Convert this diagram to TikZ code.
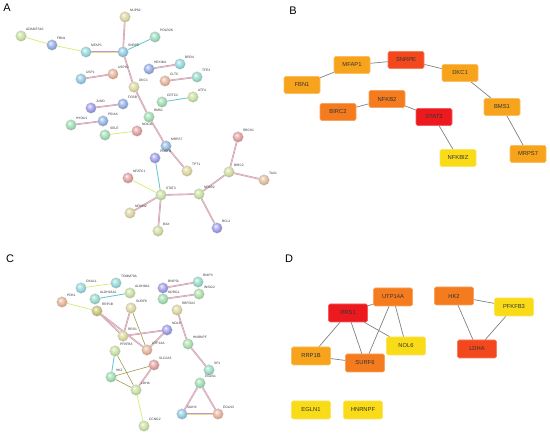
\documentclass[tikz,border=0pt]{standalone}
\usepackage{fontspec}
\setsansfont{Liberation Sans}
\usepackage{tikz}
\usetikzlibrary{backgrounds}
% sphere colours (STRING)
\definecolor{sgreen}{HTML}{9ADAAE}
\definecolor{slime}{HTML}{C4DE9C}
\definecolor{sblue}{HTML}{8FA8E2}
\definecolor{spurple}{HTML}{9A98E6}
\definecolor{steal}{HTML}{8DD5D8}
\definecolor{scyan}{HTML}{8CC6DE}
\definecolor{skhaki}{HTML}{DAD39A}
\definecolor{ssalmon}{HTML}{E4AE94}
\definecolor{sred}{HTML}{E09A9C}
\definecolor{solive}{HTML}{C4C06E}
% hub colours
\definecolor{hred}{HTML}{EC1A1F}
\definecolor{hredor}{HTML}{F3481D}
\definecolor{hdkor}{HTML}{F57B1F}
\definecolor{hor}{HTML}{F7A41C}
\definecolor{hyel}{HTML}{F9DB17}
% edge colours
\definecolor{epink}{HTML}{D48CD6}
\definecolor{eyel}{HTML}{DDE58A}
\definecolor{ecyan}{HTML}{6CC8D6}
% light glossy sphere
\makeatletter
\pgfdeclareradialshading[tikz@ball]{gsphere}{\pgfqpoint{-8bp}{10bp}}{%
  color(0bp)=(tikz@ball!8!white); color(8bp)=(tikz@ball!55!white);
  color(20bp)=(tikz@ball); color(27bp)=(tikz@ball!85!black); color(50bp)=(tikz@ball!60!black)}
\makeatother
\tikzset{
  gnode/.style={circle, minimum size=10.5pt, inner sep=0pt, draw=black!25, line width=0.2pt},
  glbl/.style={font=\sffamily\fontsize{3.3}{3.3}\selectfont, text=black!80, inner sep=0.5pt, label distance=0.8pt},
  hubbox/.style={rectangle, rounded corners=1.5pt, draw=#1!70!white, fill=#1, line width=0.6pt,
    font=\sffamily\fontsize{5.8}{6}\selectfont, text=black!80, inner sep=0pt},
  bbox/.style={minimum width=36pt, minimum height=17pt},
  dbox/.style={minimum width=39pt, minimum height=18pt},
  multi/.style={line width=1.6pt, draw=epink, postaction={draw=eyel, line width=0.5pt}},
  txt/.style={line width=0.7pt, draw=eyel!80!lime},
  coexp/.style={line width=0.9pt, draw=ecyan},
  olv/.style={line width=0.5pt, draw=olive!60!gray},
  hubln/.style={line width=0.7pt, draw=gray},
  panel/.style={font=\sffamily\fontsize{11}{11}\selectfont}
}
\newcommand{\gene}[5]{\node[gnode, ball color=#5, shading=gsphere, label={[glbl]45:#2}] (#1#2) at (#3,#4) {};}
\newcommand{\hub}[6]{\node[hubbox=#6, #5] (#1#2) at (#3,#4) {#2};}
\newcommand{\lnk}[3]{\draw[#1] (#2) -- (#3);}

\begin{document}
\begin{tikzpicture}[x=1pt, y=-1pt]
\useasboundingbox (0,0) rectangle (550,438);

% panel letters
\node[panel] (lA) at (7,8) {A};
\node[panel] (lB) at (293,11) {B};
\node[panel] (lC) at (10,259) {C};
\node[panel] (lD) at (289,259) {D};

% A
\gene{a}{ADAMTS10}{21}{36}{slime}
\gene{a}{FBN1}{52}{45}{sblue}
\gene{a}{MFAP1}{86}{52}{steal}
\gene{a}{SNRPE}{123}{52}{scyan}
\gene{a}{NUP62}{125}{17}{skhaki}
\gene{a}{POLR2K}{155}{37}{sgreen!70!steal}
\gene{a}{HEXIM1}{149}{69}{sblue}
\gene{a}{BRD4}{180}{64}{steal}
\gene{a}{USP1}{81}{79}{scyan}
\gene{a}{USP10}{113}{74}{ssalmon}
\gene{a}{DKC1}{134}{87}{skhaki}
\gene{a}{CLTC}{165}{81}{ssalmon}
\gene{a}{TFE3}{197}{77}{steal!60!sgreen}
\gene{a}{CRTC2}{162}{102}{sgreen}
\gene{a}{ATF4}{193}{97}{slime}
\gene{a}{JUND}{91}{108}{spurple}
\gene{a}{FOSB}{123}{104}{sblue}
\gene{a}{BMS1}{149}{117}{sgreen}
\gene{a}{HYOU1}{71}{125}{sgreen}
\gene{a}{PDIA4}{103}{121}{sblue!70!scyan}
\gene{a}{SELE}{105}{135}{sgreen}
\gene{a}{NOC4L}{137}{131}{sred}
\gene{a}{MRPS7}{166}{146}{sblue!60!scyan}
\gene{a}{PDGFB}{155}{158}{spurple}
\gene{a}{TPT1}{187}{171}{skhaki}
\gene{a}{NFATC1}{128}{178}{sred}
\gene{a}{STAT3}{161}{195}{slime}
\gene{a}{NFKBIZ}{130}{213}{skhaki}
\gene{a}{BAX}{158}{231}{slime!60!skhaki}
\gene{a}{NFKB2}{199}{194}{slime}
\gene{a}{BIRC2}{229}{172}{slime!60!skhaki}
\gene{a}{RBCK1}{238}{137}{sred}
\gene{a}{TAX1}{264}{180}{ssalmon!60!skhaki}
\gene{a}{BCL3}{217}{228}{spurple}

% C
\gene{c}{PDK1}{62}{302}{ssalmon}
\gene{c}{OXA1L}{81}{288}{steal}
\gene{c}{TOMM70A}{116}{283}{steal}
\gene{c}{ALDH18A1}{95}{299}{steal!60!sgreen}
\gene{c}{ALDH9A1}{130}{293}{slime}
\gene{c}{RRP1B}{97}{311}{solive}
\gene{c}{SURF6}{131}{308}{skhaki}
\gene{c}{RRS1}{123}{336}{skhaki}
\gene{c}{PFKFB3}{115}{351}{slime}
\gene{c}{NOL6}{167}{330}{spurple}
\gene{c}{UTP14A}{147}{350}{ssalmon}
\gene{c}{SLC2A3}{154}{365}{sred}
\gene{c}{HK2}{111}{377}{sgreen}
\gene{c}{LDHA}{136}{390}{slime}
\gene{c}{CCNG2}{144}{426}{slime}
\gene{c}{BNIP3L}{163}{288}{spurple}
\gene{c}{BNIP3}{198}{282}{steal!60!sgreen}
\gene{c}{NDRG1}{163}{299}{sgreen}
\gene{c}{INSIG2}{199}{294}{sgreen!60!slime}
\gene{c}{RBFOX2}{177}{310}{skhaki}
\gene{c}{HNRNPF}{188}{344}{sgreen!70!slime}
\gene{c}{SP1}{209}{370}{sgreen!60!steal}
\gene{c}{EGLN1}{200}{383}{sgreen}
\gene{c}{SIAH2}{182}{414}{scyan}
\gene{c}{EGLN3}{218}{414}{ssalmon}

% B
\hub{b}{SNRPE}{406}{60}{bbox}{hredor}
\hub{b}{MFAP1}{352}{65}{bbox}{hor}
\hub{b}{FBN1}{302}{85}{bbox}{hor}
\hub{b}{DKC1}{460}{73}{bbox}{hor}
\hub{b}{NFKB2}{387}{99}{bbox}{hdkor}
\hub{b}{BIRC2}{338}{112}{bbox}{hdkor}
\hub{b}{STAT3}{434}{117}{bbox}{hred}
\hub{b}{BMS1}{502}{107}{bbox}{hor}
\hub{b}{NFKBIZ}{458}{158}{bbox}{hyel}
\hub{b}{MRPS7}{528}{154}{bbox}{hor}

% D
\hub{d}{UTP14A}{393}{297}{dbox}{hdkor}
\hub{d}{RRS1}{348}{313}{dbox}{hred}
\hub{d}{NOL6}{406}{346}{dbox}{hyel}
\hub{d}{RRP1B}{311}{356}{dbox}{hor}
\hub{d}{SURF6}{365}{363}{dbox}{hdkor}
\hub{d}{HK2}{454}{296}{dbox}{hdkor}
\hub{d}{PFKFB3}{514}{307}{dbox}{hyel}
\hub{d}{LDHA}{477}{349}{dbox}{hredor}
\hub{d}{EGLN1}{311}{410}{dbox}{hyel}
\hub{d}{HNRNPF}{363}{410}{dbox}{hyel}

\begin{scope}[on background layer]
  % A edges
  \lnk{txt}{aADAMTS10}{aFBN1}
  \lnk{txt}{aFBN1}{aMFAP1}
  \lnk{multi}{aMFAP1}{aSNRPE}
  \lnk{multi}{aSNRPE}{aNUP62}
  \lnk{coexp}{aSNRPE}{aPOLR2K}
  \lnk{multi}{aSNRPE}{aDKC1}
  \lnk{multi}{aUSP1}{aUSP10}
  \lnk{multi}{aHEXIM1}{aBRD4}
  \lnk{multi}{aCLTC}{aTFE3}
  \lnk{coexp}{aCRTC2}{aATF4}
  \lnk{multi}{aJUND}{aFOSB}
  \lnk{multi}{aDKC1}{aBMS1}
  \lnk{multi}{aHYOU1}{aPDIA4}
  \lnk{txt}{aSELE}{aNOC4L}
  \lnk{multi}{aBMS1}{aMRPS7}
  \lnk{multi}{aMRPS7}{aTPT1}
  \lnk{coexp}{aPDGFB}{aSTAT3}
  \lnk{txt}{aNFATC1}{aSTAT3}
  \lnk{multi}{aSTAT3}{aNFKBIZ}
  \lnk{multi}{aSTAT3}{aBAX}
  \lnk{multi}{aSTAT3}{aNFKB2}
  \lnk{multi}{aNFKB2}{aBIRC2}
  \lnk{multi}{aNFKB2}{aBCL3}
  \lnk{multi}{aBIRC2}{aRBCK1}
  \lnk{multi}{aBIRC2}{aTAX1}
  % C edges
  \lnk{txt}{cPDK1}{cRRP1B}
  \lnk{txt}{cOXA1L}{cTOMM70A}
  \lnk{coexp}{cALDH18A1}{cALDH9A1}
  \lnk{multi}{cRRP1B}{cRRS1}
  \lnk{multi}{cRRP1B}{cUTP14A}
  \lnk{multi}{cSURF6}{cRRS1}
  \lnk{olv}{cSURF6}{cUTP14A}
  \lnk{multi}{cRRS1}{cNOL6}
  \lnk{multi}{cUTP14A}{cNOL6}
  \lnk{multi}{cBNIP3L}{cBNIP3}
  \lnk{multi}{cNDRG1}{cINSIG2}
  \lnk{multi}{cRBFOX2}{cHNRNPF}
  \lnk{multi}{cHNRNPF}{cSP1}
  \lnk{coexp}{cPFKFB3}{cHK2}
  \lnk{olv}{cPFKFB3}{cLDHA}
  \lnk{olv}{cHK2}{cSLC2A3}
  \lnk{olv}{cHK2}{cLDHA}
  \lnk{multi}{cSLC2A3}{cLDHA}
  \lnk{txt}{cLDHA}{cCCNG2}
  \lnk{multi}{cEGLN1}{cSIAH2}
  \lnk{multi}{cEGLN1}{cEGLN3}
  \lnk{multi}{cSIAH2}{cEGLN3}
  % B edges
  \lnk{hubln}{bFBN1}{bMFAP1}
  \lnk{hubln}{bMFAP1}{bSNRPE}
  \lnk{hubln}{bSNRPE}{bDKC1}
  \lnk{hubln}{bDKC1}{bBMS1}
  \lnk{hubln}{bBMS1}{bMRPS7}
  \lnk{hubln}{bBIRC2}{bNFKB2}
  \lnk{hubln}{bNFKB2}{bSTAT3}
  \lnk{hubln}{bSTAT3}{bNFKBIZ}
  % D edges
  \lnk{hubln}{dRRS1}{dUTP14A}
  \lnk{hubln}{dRRS1}{dRRP1B}
  \lnk{hubln}{dRRS1}{dSURF6}
  \lnk{hubln}{dRRS1}{dNOL6}
  \lnk{hubln}{dUTP14A}{dSURF6}
  \lnk{hubln}{dUTP14A}{dNOL6}
  \lnk{hubln}{dRRP1B}{dSURF6}
  \lnk{hubln}{dHK2}{dPFKFB3}
  \lnk{hubln}{dHK2}{dLDHA}
  \lnk{hubln}{dPFKFB3}{dLDHA}
\end{scope}
\end{tikzpicture}
\end{document}
